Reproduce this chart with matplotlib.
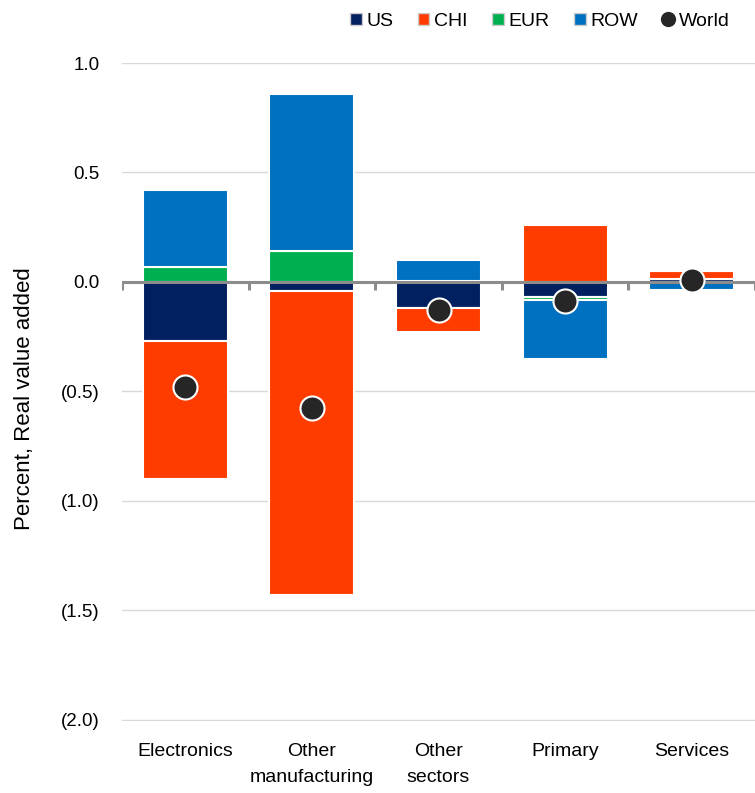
import matplotlib.pyplot as plt
from matplotlib.patches import Patch
from matplotlib.lines import Line2D
import numpy as np

plt.rcParams['font.family'] = ['Liberation Sans', 'DejaVu Sans']

categories = ["Electronics", "Other\nmanufacturing", "Other\nsectors", "Primary", "Services"]
series_names = ["US", "CHI", "EUR", "ROW"]
us = [-0.27, -0.04, -0.12, -0.07, 0.012]
chi = [-0.63, -1.39, -0.11, 0.26, 0.038]
eur = [0.07, 0.14, 0.006, -0.012, 0.0]
row = [0.35, 0.72, 0.095, -0.27, -0.037]
world = [-0.48, -0.575, -0.13, -0.085, 0.01]
yticks = [1.0, 0.5, 0.0, -0.5, -1.0, -1.5, -2.0]

colors = ["#002060", "#FF3C00", "#00B050", "#0070C0"]

fig = plt.figure(figsize=(7.55, 7.93), dpi=100)
ax = fig.add_axes([122 / 755, 72 / 793, 633 / 755, 658 / 793])

x = np.arange(len(categories))
pos_bottom = np.zeros(len(categories))
neg_bottom = np.zeros(len(categories))
for name, vals, col in zip(series_names, [us, chi, eur, row], colors):
    vals = np.array(vals)
    bottoms = np.where(vals >= 0, pos_bottom, neg_bottom)
    ax.bar(x, vals, width=0.67, bottom=bottoms, color=col,
           edgecolor="white", linewidth=1.5, zorder=2)
    pos_bottom += np.clip(vals, 0, None)
    neg_bottom += np.clip(vals, None, 0)

# zero line with small category ticks
ax.axhline(0, color="#8c8c8c", lw=2.2, zorder=3)
bounds = np.arange(len(categories) + 1) - 0.5
ax.vlines(bounds, -0.035, 0, color="#8c8c8c", lw=2.2, zorder=3)

ax.scatter(x, world, s=300, color="#262626", edgecolor="white",
           linewidth=1.5, zorder=4)

ax.set_xlim(-0.5, 4.5)
ax.set_ylim(-2.006, 1.0)
ax.set_yticks(yticks)
ax.set_yticklabels(["%.1f" % v if v >= 0 else "(%.1f)" % abs(v) for v in yticks])
ax.yaxis.grid(True, color="#d9d9d9", lw=1)
ax.set_axisbelow(True)
for s in ax.spines.values():
    s.set_visible(False)
ax.tick_params(axis="y", length=0, labelsize=13.5, pad=16)
ax.tick_params(axis="x", length=0, labelsize=14, pad=16)
ax.set_xticks(x)
ax.set_xticklabels(categories, linespacing=1.7)
ax.set_ylabel("Percent, Real value added", fontsize=16)
ax.yaxis.set_label_coords(-0.137, 0.49)

handles = [Patch(facecolor=c, edgecolor="#cccccc", label=n) for n, c in zip(series_names, colors)]
handles.append(Line2D([], [], marker="o", color="none", markerfacecolor="#262626",
                      markeredgecolor="white", markersize=12, label="World"))
fig.legend(handles=handles, loc="upper right", bbox_to_anchor=(0.99, 1.006), ncol=5,
           frameon=False, fontsize=14, handlelength=0.6, handleheight=0.6,
           handletextpad=0.25, columnspacing=1.25)

fig.savefig("out.png", dpi=100)
